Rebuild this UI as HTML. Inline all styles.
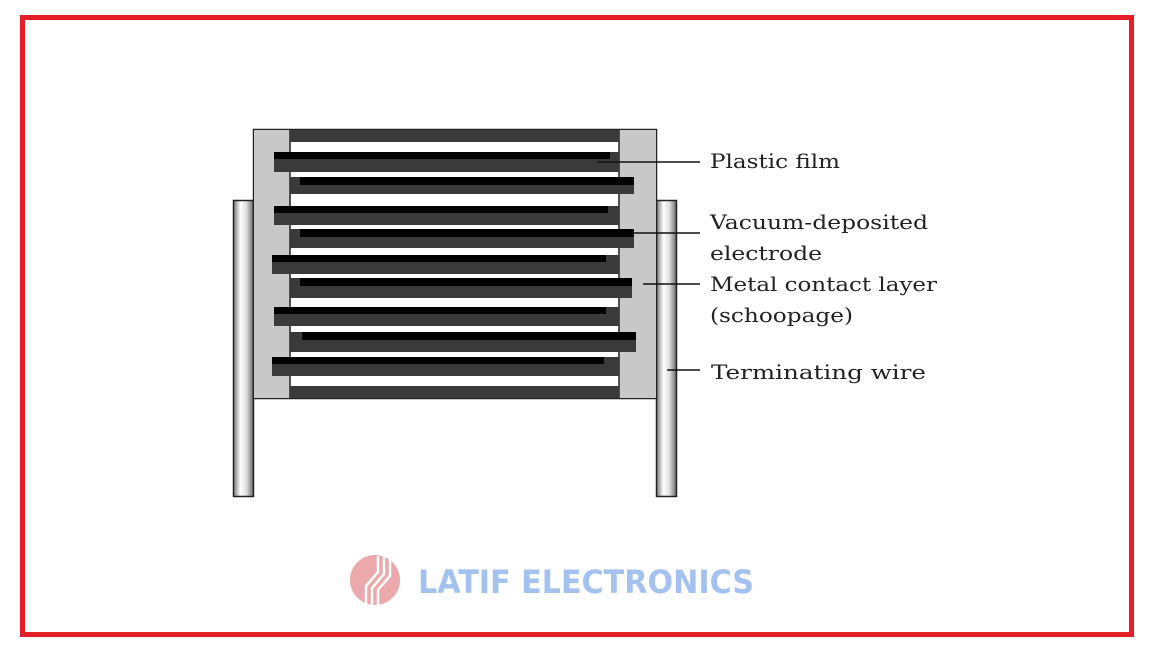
<!DOCTYPE html>
<html><head><meta charset="utf-8"><style>
html,body{margin:0;padding:0;background:#fff;}
body{width:1152px;height:648px;position:relative;overflow:hidden;}
.a{position:absolute;}
</style></head><body>
<div class="a" style="left:20px;top:15px;width:1104px;height:612px;border:5px solid #e3202a;"></div>
<svg class="a" style="left:0;top:0" width="1152" height="648" xmlns="http://www.w3.org/2000/svg">
<defs>
<linearGradient id="w" x1="0" x2="1" y1="0" y2="0">
<stop offset="0" stop-color="#777"/><stop offset="0.35" stop-color="#fff"/><stop offset="0.65" stop-color="#ddd"/><stop offset="1" stop-color="#666"/>
</linearGradient>
</defs>
<rect x="233.5" y="200.5" width="20" height="296" fill="url(#w)" stroke="#222" stroke-width="1.5"/>
<rect x="656.5" y="200.5" width="20" height="296" fill="url(#w)" stroke="#222" stroke-width="1.5"/>
<rect x="253.5" y="129.5" width="403" height="269" fill="#fff" stroke="#222" stroke-width="1.5"/>
<rect x="254" y="130" width="36" height="268" fill="#c8c8c8"/>
<rect x="619" y="130" width="37" height="268" fill="#c8c8c8"/>
<line x1="290" y1="130" x2="290" y2="398" stroke="#222" stroke-width="1.5"/>
<line x1="619" y1="130" x2="619" y2="398" stroke="#222" stroke-width="1.5"/>
<rect x="290" y="130" width="329" height="12" fill="#3a3a3a"/>
<rect x="290" y="386" width="329" height="12" fill="#3a3a3a"/>
<g fill="#3a3a3a">
<rect x="274" y="152" width="345" height="20"/>
<rect x="274" y="206" width="345" height="19"/>
<rect x="272" y="255" width="347" height="19"/>
<rect x="274" y="307" width="345" height="19"/>
<rect x="272" y="357" width="347" height="19"/>
</g>
<g fill="#000">
<rect x="274" y="152" width="336" height="7"/>
<rect x="274" y="206" width="334" height="7"/>
<rect x="272" y="255" width="334" height="7"/>
<rect x="274" y="307" width="332" height="7"/>
<rect x="272" y="357" width="332" height="7"/>
</g>
<g fill="#3a3a3a">
<rect x="290" y="177" width="344" height="17"/>
<rect x="290" y="229" width="344" height="19"/>
<rect x="290" y="278" width="342" height="20"/>
<rect x="290" y="332" width="346" height="20"/>
</g>
<g fill="#000">
<rect x="300" y="177" width="334" height="8"/>
<rect x="300" y="229" width="334" height="8"/>
<rect x="300" y="278" width="332" height="8"/>
<rect x="302" y="332" width="334" height="8"/>
</g>
<g stroke="#111" stroke-width="1.5">
<line x1="597" y1="162" x2="700" y2="162"/>
<line x1="633" y1="233" x2="700" y2="233"/>
<line x1="643" y1="284" x2="700" y2="284"/>
<line x1="667" y1="370" x2="700" y2="370"/>
</g>
<g font-family="'DejaVu Serif','Liberation Serif',serif" font-size="20" fill="#222">
<text x="710" y="168" textLength="130" lengthAdjust="spacingAndGlyphs">Plastic film</text>
<text x="710" y="229" textLength="218" lengthAdjust="spacingAndGlyphs">Vacuum-deposited</text>
<text x="710" y="260" textLength="112" lengthAdjust="spacingAndGlyphs">electrode</text>
<text x="710" y="291" textLength="227" lengthAdjust="spacingAndGlyphs">Metal contact layer</text>
<text x="710" y="322" textLength="143" lengthAdjust="spacingAndGlyphs">(schoopage)</text>
<text x="711" y="379" textLength="215" lengthAdjust="spacingAndGlyphs">Terminating wire</text>
</g>
<circle cx="375" cy="580" r="25" fill="#eba9ab"/>
<g stroke="#fff" stroke-width="2.5" fill="none">
<path d="M378 556 L378 572 L366 586 L366 605"/>
<path d="M384 556 L384 574 L372 588 L372 605"/>
<path d="M390 557 L390 576 L378 590 L378 605"/>
</g>
<text x="418" y="593" font-family="'DejaVu Sans','Liberation Sans',sans-serif" font-weight="bold" font-size="32" fill="#a3c2f0" textLength="336" lengthAdjust="spacingAndGlyphs">LATIF ELECTRONICS</text>
</svg>
</body></html>
